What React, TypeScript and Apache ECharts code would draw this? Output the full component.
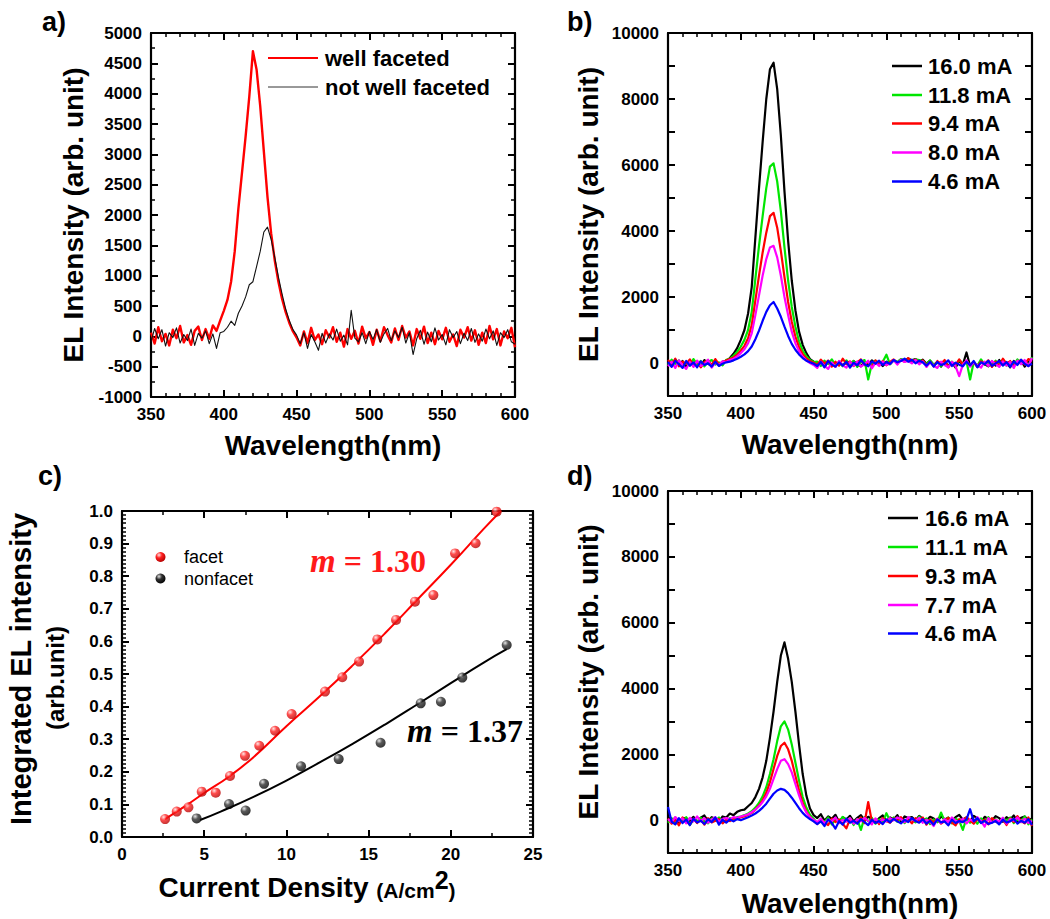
import React, { useEffect, useRef } from 'react';
import * as echarts from 'echarts';

// ---------- sampling grid of the spectra (nm) ----------
const WL_START = 350;
const WL_STEP = 2.5;

// ---------- panel a) spectra ----------
const A_RED = [
  60, -120, 150, -80, 40, -150, 110, -30, 170, -100, 20, -140, 90, 160, -60, 120,
  -40, 180, 90, 260, 420, 600, 900, 1400, 2100, 2700, 3300, 3950, 4700, 4400, 3800, 3050, 2300, 1700, 1250, 900, 620, 400, 220, 80, -20,
  -150, 80, -110, 140, -60, 30, -130, 100, -20, 150,
  -90, 60, -170, 120, -40, 90, -120, 160, -30, 70,
  -140, 110, -80, 150, 20, -100, 130, -60, 170, -20,
  80, -150, 120, -40, 160, -110, 60, -130, 90, -50,
  140, -90, 30, -160, 110, -20, 150, -70, 100, -140,
  60, -110, 170, -50, 120, -150, 80, -30, 140, -180,
];
const A_BLK = [
  -90, 130, -40, 110, -160, 60, -20, 140, -110, 30, -70, 120, -150, 50, -30, 90,
  -120, 40, -200, 60, 80, 150, 250, 180, 380, 500, 650, 850, 900, 1150, 1400, 1720, 1800, 1600, 1300, 980, 700, 450, 260, 110, 20,
  -120, 60, -200, 30, -90, -230, 50, -110, 40, -60,
  120, -80, 20, -140, 430, -30, -90, 60, -120, 80,
  -50, 110, -100, 40, 130, -70, 90, -20, 150, -110,
  60, -300, -40, 100, -130, 70, -90, 140, -60, 30,
  -140, 110, -20, 80, -120, 50, -70, 130, -100, 40,
  -80, 120, -40, 90, -150, 60, -20, 110, -90, -130,
];

// ---------- panel b) spectra ----------
const B_BLK = [
  20, -90, 110, -40, 60, -130, 80, -60, 30, -110, 90, -20, -80, 70, -50, 40,
  60, 150, 280, 450, 700, 1000, 1500, 2300, 3800, 5300, 6700, 8000, 8900, 9100, 8300, 6900, 5200, 3700, 2500, 1600, 950, 550, 300, 120, 40,
  -80, 40, -120, 60, -30, -110, 50, -70, 20, -90,
  60, -40, -100, 30, -60, 80, -20, 50, -90, 40,
  -30, 90, 20, 110, 60, 140, 80, 120, 40, 100,
  -20, 70, -60, 30, -110, 50, -80, 20, -140, 60,
  -50, 320, -90, 30, -120, 70, -40, -100, 50, -80,
  90, -60, 20, -130, 60, -30, 80, -110, 40, -70,
];
const B_GRN = [
  -60, 100, -30, 80, -120, 40, -80, 120, -40, 60, -100, 30, 90, -50, 20, -70,
  100, 130, 220, 340, 500, 700, 1000, 1550, 2550, 3550, 4450, 5300, 5950, 6050, 5500, 4600, 3500, 2500, 1700, 1100, 650, 380, 200, 90, 30,
  40, -90, 70, -30, 110, -60, 20, -100, 80, -40,
  60, -120, 30, 90, -500, -20, 70, -60, 40, 250,
  -40, 80, 30, 120, 70, 130, 50, 110, 90, 60,
  -30, 80, -50, 20, -90, 60, -110, 40, -70, 90,
  -20, 60, -500, 40, -80, 110, -50, 20, -100, 70,
  -40, 90, -80, 30, -60, 110, -20, 50, -90, 180,
];
const B_RED = [
  90, -50, 130, -100, 40, -20, 110, -80, 60, -130, 30, 80, -60, 120, -40, 20,
  80, 120, 170, 250, 380, 520, 750, 1150, 1900, 2650, 3350, 3950, 4450, 4550, 4100, 3400, 2600, 1850, 1250, 800, 480, 270, 140, 60, 10,
  -60, 100, -20, 70, -110, 40, -80, 130, -30, 50,
  -90, 20, 110, -60, 40, -120, 80, -30, 60, -70,
  30, 110, -20, 90, 40, 150, 60, 100, 20, 80,
  -70, 40, -100, 60, -20, 90, -130, 30, -60, 110,
  -40, 70, -90, 20, -110, 50, -30, 80, -120, 40,
  -80, 130, -20, 60, -100, 30, 90, -50, 120, 70,
];
const B_MAG = [
  -100, 40, -150, 80, -60, -180, 30, -120, 70, -90, -40, 100, -140, 20, -70, 50,
  30, 90, 130, 200, 300, 420, 600, 900, 1450, 2050, 2650, 3150, 3500, 3550, 3200, 2650, 2000, 1450, 950, 600, 360, 190, 80, 0, -60,
  -150, 40, -90, -180, 20, -120, 60, -70, -140, 30,
  -80, 50, -110, -30, 70, -160, 10, -90, 40, -60,
  -20, 80, -50, 100, 30, 60, -10, 90, -40, 50,
  -120, 20, -80, -150, 40, -60, -130, 30, -100, -400,
  -50, 80, -110, 20, -70, -140, 40, -90, 60, -30,
  -120, 50, -80, 30, -150, 70, -40, 90, -100, 150,
];
const B_BLU = [
  30, -120, 70, -40, -150, 60, -80, 20, -130, 50, -60, -10, -110, 40, -90, -20,
  20, 40, 80, 130, 190, 260, 360, 500, 720, 980, 1280, 1550, 1750, 1850, 1650, 1400, 1100, 820, 580, 400, 260, 150, 70, 20, -20,
  -90, 30, -130, 60, -50, -110, 20, -80, 40, -140,
  10, -70, 90, -40, -100, 50, -20, 70, -60, 30,
  -30, 90, 20, 60, 130, 40, 100, -10, 70, 20,
  -80, 40, -110, 30, -60, -20, 80, -90, 10, -50,
  -100, 40, -70, 60, -130, 20, -40, 70, -90, -10,
  60, -80, 30, -120, 50, -60, 100, -30, -90, -20,
];

// ---------- panel d) spectra ----------
const D_BLK = [
  120, -40, 80, -90, 50, 60, -20, 100, -60, 70, 140, -30, 90, 40, -50, 110,
  80, 200, 150, 250, 300, 320, 420, 520, 700, 950, 1300, 1800, 2500, 3300, 4200, 5000, 5400, 4900, 4200, 3300, 2300, 1400, 750, 350, 150,
  60, 180, -20, 110, 40, 160, -60, 90, 20, 130,
  -40, 70, 150, -10, 100, 30, -80, 60, 140, -30,
  80, 20, 150, -50, 110, 60, 90, -20, 130, 40,
  -10, 100, 50, -60, 120, 20, 70, -30, 90, 160,
  10, 80, -40, 130, 50, -70, 100, 30, -20, 120,
  60, -50, 90, 20, 140, -30, 70, 110, -10, 50,
];
const D_GRN = [
  -80, 60, -120, 30, -40, 90, -150, 20, -60, 70, -30, -100, 50, -20, 80, -70,
  -40, 60, 20, 90, 110, 150, 200, 270, 380, 520, 720, 1000, 1400, 1850, 2400, 2850, 3000, 2750, 2300, 1750, 1200, 700, 380, 160, 40,
  -100, 40, -60, 80, -130, 20, -70, 100, -20, 60,
  -150, 30, -300, 90, -40, 70, -110, 20, -60, 210,
  -30, 80, -50, 40, -90, 60, 10, -70, 110, -40,
  50, -120, 20, -60, 230, -30, 80, -100, 40, -20,
  -300, 60, -80, 20, -110, 50, -40, 90, -70, 30,
  -120, 60, -20, 80, -90, 40, -60, 110, -130, 20,
];
const D_RED = [
  50, -110, 20, -160, 80, -50, -130, 40, -90, 10, -140, 60, -70, -20, 30, -100,
  20, -30, 60, 40, 90, 110, 160, 220, 320, 440, 600, 830, 1150, 1550, 1950, 2250, 2350, 2150, 1800, 1350, 900, 520, 260, 100, -20,
  -120, 30, -80, -150, 50, -60, 20, -110, -250, 40,
  -70, -20, 80, -90, 550, -40, 30, -120, 60, -30,
  -80, 50, -10, 90, -60, 30, -100, 60, -20, 80,
  -140, 20, -70, 40, -110, -30, 70, -80, -160, 30,
  -50, 90, -20, -110, 40, -70, 10, -130, 60, -40,
  -90, 30, -150, 50, -60, 120, -30, -100, 80, -180,
];
const D_MAG = [
  30, -60, 90, -20, 50, -100, 70, -40, 110, -30, 60, -80, 20, 90, -50, 40,
  60, 30, 90, 70, 110, 140, 180, 240, 320, 420, 550, 720, 950, 1250, 1550, 1800, 1850, 1700, 1450, 1100, 750, 450, 230, 90, 0,
  -60, 40, -100, 20, -30, 80, -90, 10, -50, 60,
  -110, 30, -40, 70, -20, -130, 50, -70, 20, -40,
  60, -10, 80, 30, -60, 90, 20, -30, 70, -80,
  10, -50, -180, 40, -90, 30, -60, 80, -20, -70,
  50, -100, 20, -40, 90, -30, -200, 60, -80, 10,
  -50, 70, -110, 30, -20, 80, -60, 40, -90, -30,
];
const D_BLU = [
  400, -50, -130, 60, -90, 20, -150, 40, -70, -20, -120, 30, -60, 80, -140, 10,
  -80, 20, -40, 30, 0, 40, 90, 140, 200, 280, 380, 500, 650, 800, 900, 950, 920, 820, 680, 520, 360, 220, 110, 30, -40,
  -120, -40, -180, 20, -90, -260, -30, -140, 40, -80,
  -20, -110, 30, -60, -150, 10, -90, -30, -120, 20,
  -70, 40, -40, -100, 10, -60, 60, -30, -80, 30,
  -110, -20, -140, 20, -70, -40, -160, 10, -90, -30,
  -60, 20, 330, -40, 60, -90, -20, -120, -80, -30,
  -130, 10, -70, -40, 40, -110, -20, -80, 30, -150,
];

// ---------- panel c) integrated intensity vs current density ----------
const C_FACET = [
  [2.62, 0.055], [3.33, 0.078], [4.04, 0.091], [4.85, 0.139], [5.7, 0.136],
  [6.57, 0.187], [7.48, 0.249], [8.35, 0.28], [9.31, 0.326], [10.32, 0.377],
  [12.35, 0.446], [13.4, 0.49], [14.42, 0.538], [15.53, 0.606], [16.67, 0.666],
  [17.82, 0.722], [18.94, 0.742], [20.26, 0.87], [21.51, 0.901], [22.79, 0.998],
];
const C_NONFACET = [
  [4.54, 0.057], [6.51, 0.101], [7.52, 0.081], [8.64, 0.163], [10.89, 0.217],
  [13.18, 0.239], [15.73, 0.289], [18.17, 0.41], [19.4, 0.415], [20.7, 0.489], [23.4, 0.589],
];
const C_FACET_FIT = [
  [2.62, 0.055], [4, 0.1], [5, 0.135], [6.5, 0.185], [8, 0.245], [10, 0.34],
  [12, 0.43], [14, 0.525], [16, 0.625], [18, 0.73], [20, 0.835], [22, 0.945], [23.05, 1.0],
];
const C_NONFACET_FIT = [
  [4.75, 0.052], [6, 0.078], [8, 0.123], [10, 0.173], [12, 0.228], [14, 0.285],
  [16, 0.345], [18, 0.408], [20, 0.472], [22, 0.535], [23.4, 0.576],
];

// ---------- labels ----------
const A_NAMES = ['well faceted', 'not well faceted'];
const B_NAMES = ['16.0 mA', '11.8 mA', '9.4 mA', '8.0 mA', '4.6 mA'];
const D_NAMES = ['16.6 mA', '11.1 mA', '9.3 mA', '7.7 mA', '4.6 mA'];
const C_NAMES = ['facet', 'nonfacet'];
const C_SLOPES = ['1.30', '1.37'];

const SANS = '"Liberation Sans", Arial, Helvetica, sans-serif';
const SERIF = '"Liberation Serif", "Times New Roman", serif';
const COLORS5 = ['#000000', '#00e600', '#ff0000', '#ff00ff', '#0000ff'];
const TICK = '#000000';

function toXY(vals: number[]) {
  return vals.map((v, i) => [WL_START + WL_STEP * i, v]);
}

function axis(o: any) {
  return {
    type: 'value',
    gridIndex: o.grid,
    position: o.position,
    min: o.min,
    max: o.max,
    interval: o.interval,
    axisLine: { show: true, onZero: false, lineStyle: { color: '#000', width: 2.2 } },
    axisTick: { show: true, inside: true, length: 7, lineStyle: { color: TICK, width: 2 } },
    minorTick: {
      show: o.minor > 0,
      splitNumber: o.minor || 2,
      length: 4,
      lineStyle: { color: TICK, width: 1.5 },
    },
    axisLabel: {
      show: !!o.labels,
      color: '#000',
      fontWeight: 'bold',
      fontSize: 17,
      fontFamily: SANS,
      margin: 9,
      showMinLabel: true,
      showMaxLabel: true,
      formatter: o.formatter || ((v: number) => String(v)),
    },
    splitLine: { show: false },
    name: o.name,
    nameLocation: 'middle',
    nameGap: o.nameGap,
    nameTextStyle: { color: '#000', fontWeight: 'bold', fontSize: 28, fontFamily: SANS },
  };
}

const GRIDS = [
  { left: 151, top: 33, width: 364, height: 364 },
  { left: 668, top: 33, width: 364, height: 363 },
  { left: 122, top: 511, width: 411, height: 326 },
  { left: 668, top: 491, width: 364, height: 362 },
];

const evenK = (v: number) => (v >= 0 && v % 2000 === 0 ? String(v) : '');

function buildOption() {
  const xAxes: any[] = [];
  const yAxes: any[] = [];
  const wlX = (g: number, gap: number) => [
    axis({ grid: g, position: 'bottom', min: 350, max: 600, interval: 50, minor: 5, labels: true, name: 'Wavelength(nm)', nameGap: gap }),
    axis({ grid: g, position: 'top', min: 350, max: 600, interval: 50, minor: 5 }),
  ];
  xAxes.push(...wlX(0, 34));
  yAxes.push(
    axis({ grid: 0, position: 'left', min: -1000, max: 5000, interval: 500, minor: 2, labels: true, name: 'EL Intensity (arb. unit)', nameGap: 64 }),
    axis({ grid: 0, position: 'right', min: -1000, max: 5000, interval: 500, minor: 2 }),
  );
  xAxes.push(...wlX(1, 34));
  yAxes.push(
    axis({ grid: 1, position: 'left', min: -1000, max: 10000, interval: 1000, minor: 0, labels: true, formatter: evenK, name: 'EL Intensity (arb. unit)', nameGap: 66 }),
    axis({ grid: 1, position: 'right', min: -1000, max: 10000, interval: 1000, minor: 0 }),
  );
  xAxes.push(
    axis({ grid: 2, position: 'bottom', min: 0, max: 25, interval: 5, minor: 2, labels: true }),
    axis({ grid: 2, position: 'top', min: 0, max: 25, interval: 5, minor: 2 }),
  );
  yAxes.push(
    axis({ grid: 2, position: 'left', min: 0, max: 1, interval: 0.1, minor: 8, labels: true, formatter: (v: number) => v.toFixed(1) }),
    axis({ grid: 2, position: 'right', min: 0, max: 1, interval: 0.1, minor: 8 }),
  );
  xAxes.push(...wlX(3, 36));
  yAxes.push(
    axis({ grid: 3, position: 'left', min: -1000, max: 10000, interval: 1000, minor: 0, labels: true, formatter: evenK, name: 'EL Intensity (arb. unit)', nameGap: 66 }),
    axis({ grid: 3, position: 'right', min: -1000, max: 10000, interval: 1000, minor: 0 }),
  );

  const spec = (name: string, data: number[], color: string, g: number, width: number) => ({
    type: 'line',
    name,
    xAxisIndex: g * 2,
    yAxisIndex: g * 2,
    data: toXY(data),
    symbol: 'none',
    showSymbol: false,
    silent: true,
    lineStyle: { color, width, join: 'round' },
  });

  const sphere = (c0: string, c1: string, c2: string) =>
    new echarts.graphic.RadialGradient(0.35, 0.3, 0.75, [
      { offset: 0, color: c0 },
      { offset: 0.4, color: c1 },
      { offset: 1, color: c2 },
    ]);
  const redSphere = () => sphere('#ffe0e0', '#ff2020', '#b00000');
  const blkSphere = () => sphere('#e0e0e0', '#303030', '#000000');

  const bData = [B_BLK, B_GRN, B_RED, B_MAG, B_BLU];
  const dData = [D_BLK, D_GRN, D_RED, D_MAG, D_BLU];

  const series: any[] = [
    spec(A_NAMES[0], A_RED, '#ff0000', 0, 2.4),
    spec(A_NAMES[1], A_BLK, '#111111', 0, 1.1),
    ...bData.map((d, i) => spec(B_NAMES[i], d, COLORS5[i], 1, 2.2)),
    ...dData.map((d, i) => spec(D_NAMES[i], d, COLORS5[i], 3, 2.2)),
    {
      type: 'line', name: 'facet fit', xAxisIndex: 4, yAxisIndex: 4, data: C_FACET_FIT,
      smooth: true, symbol: 'none', silent: true, lineStyle: { color: '#ff0000', width: 2 },
    },
    {
      type: 'line', name: 'nonfacet fit', xAxisIndex: 4, yAxisIndex: 4, data: C_NONFACET_FIT,
      smooth: true, symbol: 'none', silent: true, lineStyle: { color: '#000', width: 2 },
    },
    {
      type: 'scatter', name: C_NAMES[0], xAxisIndex: 4, yAxisIndex: 4, data: C_FACET,
      symbolSize: 10, itemStyle: { color: redSphere() }, z: 5,
    },
    {
      type: 'scatter', name: C_NAMES[1], xAxisIndex: 4, yAxisIndex: 4, data: C_NONFACET,
      symbolSize: 10, itemStyle: { color: blkSphere() }, z: 5,
    },
  ];

  const txt = (text: string, x: number, y: number, extra: any = {}) => ({
    type: 'text',
    x,
    y,
    style: {
      text,
      fill: '#000',
      fontFamily: SANS,
      fontWeight: 'bold',
      fontSize: 22,
      align: 'left',
      verticalAlign: 'middle',
      ...extra,
    },
  });
  const legLine = (x1: number, x2: number, y: number, color: string, w: number) => ({
    type: 'line',
    shape: { x1, y1: y, x2, y2: y },
    style: { stroke: color, lineWidth: w },
  });

  const graphic: any[] = [
    txt('a)', 42, 22, { fontSize: 27 }),
    txt('b)', 567, 22, { fontSize: 27 }),
    txt('c)', 38, 476, { fontSize: 27 }),
    txt('d)', 567, 476, { fontSize: 27 }),
    legLine(268, 318, 58, '#ff0000', 2.2),
    txt(A_NAMES[0], 325, 58),
    legLine(268, 318, 87, '#333333', 1),
    txt(A_NAMES[1], 325, 87),
  ];
  const bRows = [66, 95, 123.5, 152.5, 181.5];
  B_NAMES.forEach((n, i) => {
    graphic.push(legLine(892, 922, bRows[i], COLORS5[i], 2.5));
    graphic.push(txt(n, 928, bRows[i]));
  });
  const dRows = [518, 547, 576, 605, 633.5];
  D_NAMES.forEach((n, i) => {
    graphic.push(legLine(888, 918, dRows[i], COLORS5[i], 2.5));
    graphic.push(txt(n, 925, dRows[i]));
  });
  graphic.push({ type: 'circle', shape: { cx: 160.5, cy: 557, r: 5 }, style: { fill: redSphere() } });
  graphic.push(txt(C_NAMES[0], 184, 557, { fontWeight: 'normal', fontSize: 18 }));
  graphic.push({ type: 'circle', shape: { cx: 160.5, cy: 578.5, r: 5 }, style: { fill: blkSphere() } });
  graphic.push(txt(C_NAMES[1], 184, 578.5, { fontWeight: 'normal', fontSize: 18 }));
  const slope = (val: string, x: number, y: number, color: string) => ({
    type: 'text',
    x,
    y,
    style: {
      text: `{i|m}{n| = ${val}}`,
      fill: color,
      align: 'left',
      verticalAlign: 'middle',
      rich: {
        i: { fontFamily: SERIF, fontStyle: 'italic', fontWeight: 'bold', fontSize: 33, fill: color },
        n: { fontFamily: SERIF, fontWeight: 'bold', fontSize: 32, fill: color },
      },
    },
  });
  graphic.push(slope(C_SLOPES[0], 310, 561, '#ff1a1a'));
  graphic.push(slope(C_SLOPES[1], 407, 731, '#000000'));
  graphic.push({
    type: 'text', x: 21, y: 669, rotation: Math.PI / 2,
    style: {
      text: 'Integrated EL intensity',
      fill: '#000', fontFamily: SANS, fontWeight: 'bold', fontSize: 29,
      align: 'center', verticalAlign: 'middle',
    },
  });
  graphic.push({
    type: 'text', x: 55, y: 678, rotation: Math.PI / 2,
    style: {
      text: '(arb.unit)',
      fill: '#000', fontFamily: SANS, fontWeight: 'bold', fontSize: 24,
      align: 'center', verticalAlign: 'middle',
    },
  });
  graphic.push({
    type: 'text', x: 307, y: 884,
    style: {
      text: '{a|Current Density }{b|(A/cm}{s|2}{b|)}',
      fill: '#000',
      align: 'center',
      verticalAlign: 'middle',
      rich: {
        a: { fontFamily: SANS, fontWeight: 'bold', fontSize: 28, lineHeight: 34, verticalAlign: 'bottom', fill: '#000' },
        b: { fontFamily: SANS, fontWeight: 'bold', fontSize: 21, lineHeight: 24, verticalAlign: 'bottom', fill: '#000' },
        s: { fontFamily: SANS, fontWeight: 'bold', fontSize: 25, lineHeight: 26, verticalAlign: 'top', fill: '#000' },
      },
    },
  });

  return {
    animation: false,
    backgroundColor: '#ffffff',
    grid: GRIDS.map((g) => ({ ...g, containLabel: false })),
    xAxis: xAxes,
    yAxis: yAxes,
    series,
    graphic,
  };
}

export default function App() {
  const ref = useRef<HTMLDivElement>(null);
  useEffect(() => {
    if (!ref.current) return;
    const chart = echarts.init(ref.current, null, { renderer: 'svg' });
    chart.setOption(buildOption() as any);
    return () => chart.dispose();
  }, []);
  return (
    <div
      ref={ref}
      style={{ position: 'fixed', left: 0, top: 0, width: 1050, height: 919, background: '#fff' }}
    />
  );
}
